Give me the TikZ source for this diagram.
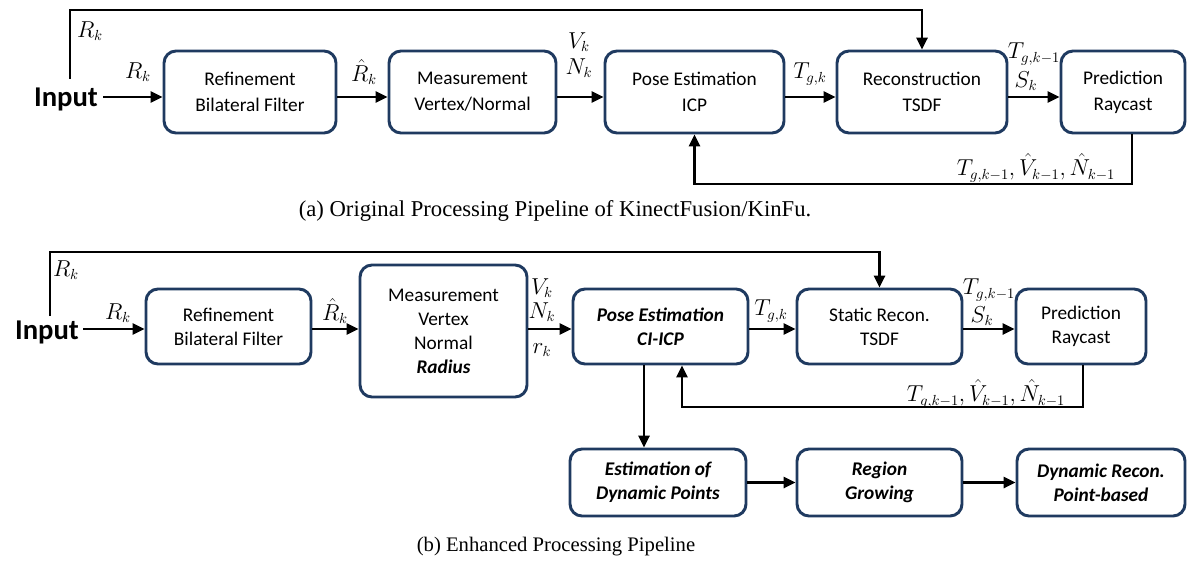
\documentclass[tikz,border=0pt]{standalone}
\usepackage{fontspec}
\setmainfont{Liberation Serif}
\newfontfamily\calfont{Carlito}
\newfontfamily\capfont{Liberation Serif}
\usetikzlibrary{arrows.meta,calc}
\definecolor{boxblue}{HTML}{1F3A60}
\begin{document}
\begin{tikzpicture}[x=0.75pt,y=-0.75pt,
 box/.style={draw=boxblue, line width=2.2pt, rounded corners=9pt, fill=white, align=center, inner sep=0pt, font=\calfont\fontsize{14.5}{19.5}\selectfont},
 boxb/.style={box, font=\calfont\fontsize{14.5}{18}\selectfont},
 arr/.style={line width=1.6pt, -{Triangle[length=9pt,width=8.5pt]}},
 lbl/.style={inner sep=0pt, font=\fontsize{16}{18}\selectfont},
 capt/.style={inner sep=0pt, font=\capfont\fontsize{17}{20}\selectfont},
 captb/.style={inner sep=0pt, font=\capfont\fontsize{15.5}{18}\selectfont},
 inp/.style={inner sep=0pt, font=\calfont\bfseries\fontsize{21.5}{24}\selectfont},
]
\path[use as bounding box] (0,0) rectangle (1188,567);

% ---------------- panel (a) ----------------
\coordinate (ya) at (0,97);
\node[inp] (inA) at (66,99) {Input};
\node[box, minimum width=129pt, minimum height=61.5pt] (refA) at (250,92) {Refinement\\Bilateral Filter};
\node[box, minimum width=125.25pt, minimum height=61.5pt] (measA) at (472.5,92) {Measurement\\Vertex/Normal};
\node[box, minimum width=134.25pt, minimum height=61.5pt] (poseA) at (694.5,92) {Pose Estimation\\ICP};
\node[box, minimum width=127.5pt, minimum height=61.5pt] (recA) at (922,92) {Reconstruction\\TSDF};
\node[box, minimum width=93pt, minimum height=61.5pt] (predA) at (1123,92) {Prediction\\Raycast};

\draw[arr] ([xshift=4pt]inA.east |- ya) -- (refA.west |- ya);
\draw[arr] (refA.east |- ya) -- (measA.west |- ya);
\draw[arr] (measA.east |- ya) -- (poseA.west |- ya);
\draw[arr] (poseA.east |- ya) -- (recA.west |- ya);
\draw[arr] (recA.east |- ya) -- (predA.west |- ya);

\coordinate (vA) at (70,79);
\coordinate (tA) at (0,10);
\draw[arr] (vA) -- (vA |- tA) -| (recA.north);
\coordinate (fA) at (1132,184);
\draw[arr] (predA.south -| fA) -- (fA) -| (poseA.south);

\node[lbl] (rkA1) at (90,31) {$R_k$};
\node[lbl] (rkA2) at (138,72) {$R_k$};
\node[lbl] (rhA) at (364,72) {$\hat{R}_k$};
\node[lbl] (vkA) at (579,42) {$V_k$};
\node[lbl] (nkA) at (579,68) {$N_k$};
\node[lbl] (tgA) at (810,74) {$T_{g,k}$};
\node[lbl] (tg1A) at (1034,54) {$T_{g,k-1}$};
\node[lbl] (skA) at (1026,81) {$S_k$};
\node[lbl] (fbA) at (1036,168) {$T_{g,k-1}, \hat{V}_{k-1}, \hat{N}_{k-1}$};

\node[capt] (capA) at (555,211) {(a) Original Processing Pipeline of KinectFusion/KinFu.};

% ---------------- panel (b) ----------------
\coordinate (yb) at (0,329);
\node[inp] (inB) at (47,332) {Input};
\node[boxb, minimum width=123.75pt, minimum height=56.25pt] (refB) at (228.5,326.5) {Refinement\\Bilateral Filter};
\node[boxb, minimum width=125.25pt, minimum height=99pt] (measB) at (443.5,331) {Measurement\\Vertex\\Normal\\\bfseries\itshape Radius};
\node[boxb, minimum width=131.25pt, minimum height=56.25pt] (poseB) at (660.5,326.5) {\bfseries\itshape Pose Estimation\\\bfseries\itshape CI-ICP};
\node[boxb, minimum width=123.75pt, minimum height=56.25pt] (stB) at (879.5,326.5) {Static Recon.\\TSDF};
\node[boxb, minimum width=97.5pt, minimum height=56.25pt] (predB) at (1081,326.5) {Prediction\\Raycast};

\node[boxb, minimum width=132pt, minimum height=50.25pt] (estB) at (658,482.5) {\bfseries\itshape Estimation of\\\bfseries\itshape Dynamic Points};
\node[boxb, minimum width=123.75pt, minimum height=50.25pt] (regB) at (879.5,482.5) {\bfseries\itshape Region\\\bfseries\itshape Growing};
\node[boxb, minimum width=126pt, minimum height=50.25pt] (dynB) at (1101,482.5) {\bfseries\itshape Dynamic Recon.\\\bfseries\itshape Point-based};

\draw[arr] ([xshift=3pt]inB.east |- yb) -- (refB.west |- yb);
\draw[arr] (refB.east |- yb) -- (measB.west |- yb);
\draw[arr] (measB.east |- yb) -- (poseB.west |- yb);
\draw[arr] (poseB.east |- yb) -- (stB.west |- yb);
\draw[arr] (stB.east |- yb) -- (predB.west |- yb);
\draw[arr] (estB) -- (regB);
\draw[arr] (regB) -- (dynB);

\coordinate (vB) at (50,316);
\coordinate (tB) at (0,252);
\draw[arr] (vB) -- (vB |- tB) -| (stB.north);
\coordinate (fB) at (1083,407);
\coordinate (uB) at (682,0);
\draw[arr] (predB.south -| fB) -- (fB) -| (poseB.south -| uB);
\coordinate (dB) at (644,0);
\draw[arr] (poseB.south -| dB) -- (estB.north -| dB);

\node[lbl] (rkB1) at (66,270) {$R_k$};
\node[lbl] (rkB2) at (118,313) {$R_k$};
\node[lbl] (rhB) at (335,311) {$\hat{R}_k$};
\node[lbl] (vkB) at (542,288) {$V_k$};
\node[lbl] (nkB) at (542,312) {$N_k$};
\node[lbl] (rrB) at (542,350) {$r_k$};
\node[lbl] (tgB) at (771,311) {$T_{g,k}$};
\node[lbl] (tg1B) at (989,290) {$T_{g,k-1}$};
\node[lbl] (skB) at (982,316) {$S_k$};
\node[lbl] (fbLB) at (986,394) {$T_{g,k-1}, \hat{V}_{k-1}, \hat{N}_{k-1}$};

\node[captb] (capB) at (556,547) {(b) Enhanced Processing Pipeline};
\end{tikzpicture}
\end{document}
